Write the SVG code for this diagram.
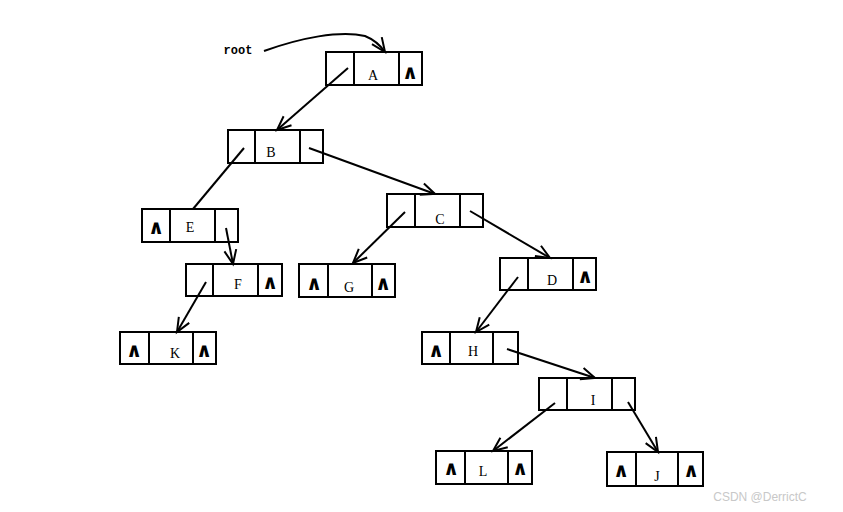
<svg xmlns="http://www.w3.org/2000/svg" width="843" height="512" viewBox="0 0 843 512">
<style>
.box{fill:#fff;stroke:#000;stroke-width:2}
.lbl{font-family:"Liberation Serif",serif;font-size:14px;fill:#000;text-anchor:middle}
.nil{font-family:"DejaVu Sans",sans-serif;font-size:20px;font-weight:bold;fill:#000;text-anchor:middle}
.ln{fill:none;stroke:#000;stroke-width:2}
</style>
<defs>
<marker id="ah" markerUnits="userSpaceOnUse" markerWidth="20" markerHeight="20" refX="0" refY="0" viewBox="-16 -10 20 20" orient="auto" overflow="visible">
<path d="M-14,-6 L0,0 L-14,6" fill="none" stroke="#000" stroke-width="2"/>
</marker>
</defs>
<rect width="843" height="512" fill="#fff"/>
<g id="root">
<text x="238" y="54" font-family="Liberation Mono,monospace" font-size="12" font-weight="bold" text-anchor="middle">root</text>
</g>
<g id="nodeA"><rect class="box" x="326" y="52" width="96" height="33"/><line class="ln" x1="354" y1="52" x2="354" y2="85"/><line class="ln" x1="399" y1="52" x2="399" y2="85"/><text class="lbl" x="373" y="80">A</text><text class="nil" x="410" y="79">∧</text></g>
<g id="nodeB"><rect class="box" x="228" y="130" width="95" height="33"/><line class="ln" x1="255" y1="130" x2="255" y2="163"/><line class="ln" x1="300" y1="130" x2="300" y2="163"/><text class="lbl" x="271" y="157">B</text></g>
<g id="nodeE"><rect class="box" x="142" y="209" width="96" height="33"/><line class="ln" x1="170" y1="209" x2="170" y2="242"/><line class="ln" x1="215" y1="209" x2="215" y2="242"/><text class="lbl" x="190" y="232">E</text><text class="nil" x="156" y="234">∧</text></g>
<g id="nodeC"><rect class="box" x="387" y="194" width="96" height="33"/><line class="ln" x1="415" y1="194" x2="415" y2="227"/><line class="ln" x1="460" y1="194" x2="460" y2="227"/><text class="lbl" x="440" y="224">C</text></g>
<g id="nodeF"><rect class="box" x="186" y="264" width="96" height="32"/><line class="ln" x1="213" y1="264" x2="213" y2="296"/><line class="ln" x1="258" y1="264" x2="258" y2="296"/><text class="lbl" x="238" y="289">F</text><text class="nil" x="270" y="289">∧</text></g>
<g id="nodeG"><rect class="box" x="299" y="264" width="96" height="33"/><line class="ln" x1="328" y1="264" x2="328" y2="297"/><line class="ln" x1="372" y1="264" x2="372" y2="297"/><text class="lbl" x="349" y="292">G</text><text class="nil" x="314" y="290">∧</text><text class="nil" x="383" y="290">∧</text></g>
<g id="nodeD"><rect class="box" x="500" y="258" width="96" height="32"/><line class="ln" x1="528" y1="258" x2="528" y2="290"/><line class="ln" x1="573" y1="258" x2="573" y2="290"/><text class="lbl" x="552" y="285">D</text><text class="nil" x="585" y="283">∧</text></g>
<g id="nodeK"><rect class="box" x="120" y="332" width="96" height="32"/><line class="ln" x1="149" y1="332" x2="149" y2="364"/><line class="ln" x1="193" y1="332" x2="193" y2="364"/><text class="lbl" x="175" y="358">K</text><text class="nil" x="134" y="357">∧</text><text class="nil" x="204" y="357">∧</text></g>
<g id="nodeH"><rect class="box" x="422" y="332" width="96" height="32"/><line class="ln" x1="450" y1="332" x2="450" y2="364"/><line class="ln" x1="493" y1="332" x2="493" y2="364"/><text class="lbl" x="473" y="356">H</text><text class="nil" x="436" y="357">∧</text></g>
<g id="nodeI"><rect class="box" x="539" y="378" width="96" height="32"/><line class="ln" x1="567" y1="378" x2="567" y2="410"/><line class="ln" x1="612" y1="378" x2="612" y2="410"/><text class="lbl" x="593" y="405">I</text></g>
<g id="nodeL"><rect class="box" x="436" y="451" width="96" height="33"/><line class="ln" x1="465" y1="451" x2="465" y2="484"/><line class="ln" x1="508" y1="451" x2="508" y2="484"/><text class="lbl" x="483" y="476">L</text><text class="nil" x="451" y="475">∧</text><text class="nil" x="520" y="475">∧</text></g>
<g id="nodeJ"><rect class="box" x="607" y="452" width="96" height="34"/><line class="ln" x1="636" y1="452" x2="636" y2="486"/><line class="ln" x1="678" y1="452" x2="678" y2="486"/><text class="lbl" x="657" y="481">J</text><text class="nil" x="621" y="477">∧</text><text class="nil" x="691" y="477">∧</text></g>
<g id="connectors">
<path class="ln" d="M264,51 C300,38 340,30 365,36 C375,40 380,45 385,52" marker-end="url(#ah)"/>
<line class="ln" x1="348" y1="68" x2="277" y2="130" marker-end="url(#ah)"/>
<line class="ln" x1="244" y1="148" x2="193" y2="209"/>
<line class="ln" x1="309" y1="148" x2="435" y2="194" marker-end="url(#ah)"/>
<line class="ln" x1="226" y1="228" x2="233" y2="264" marker-end="url(#ah)"/>
<line class="ln" x1="206" y1="282" x2="177" y2="332" marker-end="url(#ah)"/>
<line class="ln" x1="405" y1="212" x2="353" y2="263" marker-end="url(#ah)"/>
<line class="ln" x1="470" y1="211" x2="550" y2="258" marker-end="url(#ah)"/>
<line class="ln" x1="518" y1="277" x2="476" y2="332" marker-end="url(#ah)"/>
<line class="ln" x1="507" y1="349" x2="595" y2="378" marker-end="url(#ah)"/>
<line class="ln" x1="555" y1="403" x2="493" y2="451" marker-end="url(#ah)"/>
<line class="ln" x1="628" y1="402" x2="658" y2="452" marker-end="url(#ah)"/>
</g>
<text x="760" y="501" font-family="Liberation Sans,sans-serif" font-size="12" fill="#c8c8c8" text-anchor="middle">CSDN @DerrictC</text>
</svg>
